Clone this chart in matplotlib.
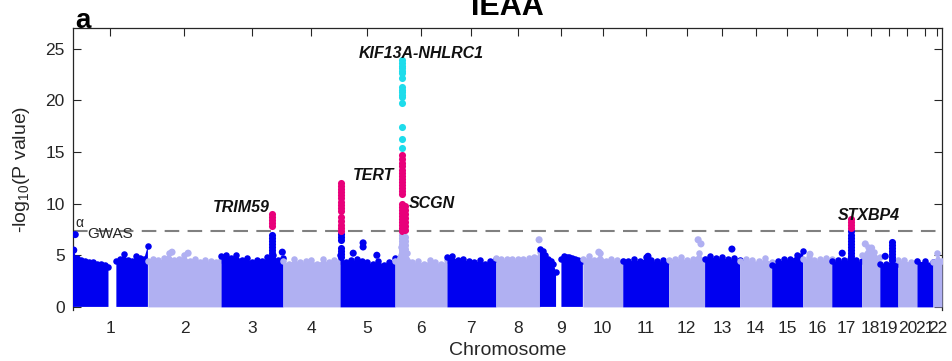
import numpy as np
import matplotlib.pyplot as plt

plt.rcParams['font.family'] = ['Liberation Sans', 'DejaVu Sans']
plt.rcParams['mathtext.default'] = 'regular'

# chromosome lengths (Mb, as laid out in the figure)
chroms = [str(i) for i in range(1, 23)]
chrom_len = [248, 242, 205, 189, 182, 172, 162, 146, 142, 132, 152,
             119, 116, 106, 103, 96, 99, 60, 60, 63, 53, 30]

# upper envelope of the bulk -log10(p) cloud, evenly along each chromosome (nan = gap)
nan = np.nan
env = [
    [5.5, 4.7, 4.5, 4.4, 4.3, 4.3, 4.2, 4.2, 4.1, 3.9, nan, 4.4, 4.6, 5.1, 4.5, 4.4, 4.9, 4.7, 4.6, 5.9],
    [4.4, 4.6, 4.5, 4.7, 5.2, 4.5, 4.6, 5.0, 4.4, 4.6, 4.3, 4.5, 4.4, 4.3, 4.5],
    [4.9, 5.0, 4.7, 5.0, 4.5, 4.7, 4.3, 4.5, 4.4, 4.8, 5.0, 4.5, 4.7],
    [4.4, 4.2, 4.6, 4.3, 4.4, 4.5, 4.2, 4.6, 4.3, 4.5, 4.4],
    [5.0, 4.3, 4.5, 4.6, 4.4, 4.3, 4.2, 4.4, 4.1, 4.3, 4.7],
    [4.4, 5.8, 5.2, 4.3, 4.4, 4.2, 4.5, 4.3, 4.2, 4.5],
    [4.8, 4.9, 4.5, 4.6, 4.4, 4.3, 4.5, 4.2, 4.4, 4.6],
    [4.7, 4.6, 4.6, 4.6, 4.6, 4.6, 4.7, 4.8, 5.3],
    [5.6, 5.4, 5.0, 4.6, 4.4, 4.2, 3.4, nan, 4.6, 4.9, 4.8, 4.8, 4.7, 4.6, 4.5, 4.4, 4.4],
    [4.6, 4.9, 4.5, 5.2, 4.4, 4.6, 4.5, 4.4],
    [4.4, 4.4, 4.6, 4.4, 4.8, 4.5, 4.4, 4.5, 4.4],
    [4.5, 4.6, 4.8, 4.5, 4.6, 5.2, 4.6],
    [4.6, 4.9, 4.7, 4.8, 4.6, 4.7, 4.5],
    [4.4, 4.6, 4.5, 4.4, 4.7, 4.3],
    [4.1, 4.4, 4.6, 4.6, 5.0, 5.4],
    [4.6, 4.8, 4.5, 4.6, 4.7, 4.6],
    [4.4, 4.5, 4.5, 4.6, 4.5, 4.4],
    [5.0, 5.8, 5.3, 4.8],
    [4.2, 4.2, 4.5, 4.2],
    [4.5, 4.5, 4.3, 4.4],
    [4.4, 4.4, 4.3],
    [4.3, 5.2, 4.4],
]

# isolated SNPs above the cloud
out_chrom = [1, 1, 2, 2, 3, 5, 5, 5, 5, 8, 10, 11, 12, 12, 13, 16, 17, 18, 18, 19]
out_frac = [0.03, 0.01, 0.33, 0.55, 0.99, 0.42, 0.42, 0.24, 0.67, 0.98, 0.4, 0.55,
            0.82, 0.9, 0.78, 0.25, 0.35, 0.2, 0.55, 0.3]
out_val = [7.0, 5.5, 5.3, 5.2, 5.3, 6.2, 5.8, 5.2, 5.0, 6.5, 5.3, 4.9,
           6.5, 6.1, 5.6, 5.1, 5.2, 6.1, 5.7, 4.9]

# peak columns: below-threshold SNPs, significant SNPs, top locus SNPs
hit_chrom = [3, 5, 6, 6, 17, 19]
hit_frac = [0.82, 0.02, 0.13, 0.19, 0.63, 0.7]
hit_base = [
    [7.0, 6.7, 6.4, 6.1, 5.8, 5.5, 5.2, 4.9, 4.6],
    [7.1, 6.8, 6.5, 5.7, 5.4, 5.1, 4.8],
    [7.0, 6.7, 6.4, 6.1, 5.8, 5.5, 5.2, 4.9],
    [6.8, 6.4, 6.0, 5.6, 5.2],
    [7.3, 7.0, 6.7, 6.4, 6.1, 5.8, 5.5, 5.2, 4.9, 4.6],
    [6.3, 6.0, 5.7, 5.4, 5.1, 4.8, 4.5],
]
hit_sig = [
    [9.0, 8.7, 8.4, 8.1, 7.8],
    [12.0, 11.7, 11.4, 11.1, 10.8, 10.5, 10.2, 9.9, 9.6, 9.3, 8.7, 8.3, 7.9, 7.6, 7.3],
    [14.7, 14.3, 13.9, 13.6, 13.3, 13.0, 12.7, 12.4, 12.1, 11.8, 11.5, 11.2, 10.9,
     10.0, 9.7, 9.4, 9.1, 8.8, 8.5, 8.2, 7.9, 7.6, 7.35],
    [9.8, 9.4, 9.0, 8.6, 8.2, 7.8, 7.4],
    [8.5, 8.2, 7.9, 7.6],
    [],
]
hit_top = [
    [], [],
    [23.9, 23.6, 23.3, 23.1, 22.8, 22.6, 22.2, 21.3, 21.0, 20.8, 20.5, 20.3, 19.7,
     17.4, 16.3, 15.4],
    [], [], [],
]

gwas = -np.log10(5e-8)

dark = '#0000F0'
light = '#B0B0F2'
sig_col = '#E8007A'
top_col = '#1EDCEB'
ink = '#262626'

starts = np.concatenate([[0], np.cumsum(chrom_len)[:-1]])
total = sum(chrom_len)
centers = starts + np.array(chrom_len) / 2


def chrom_color(c):
    return dark if c % 2 == 1 else light


def pos(c, f):
    return starts[c - 1] + f * chrom_len[c - 1]


fig = plt.figure(figsize=(9.52, 3.61), dpi=100)
ax = fig.add_axes([73 / 952, 1 - 310 / 361, 869 / 952, 282 / 361])

for i in range(22):
    col = chrom_color(i + 1)
    y = np.array(env[i], dtype=float)
    x = np.linspace(starts[i], starts[i] + chrom_len[i], len(y))
    ax.fill_between(x, 0, y, color=col, lw=0, zorder=3)
    ax.scatter(x, y, s=22, color=col, lw=0, zorder=3)

ax.scatter([pos(c, f) for c, f in zip(out_chrom, out_frac)], out_val,
           s=26, c=[chrom_color(c) for c in out_chrom], lw=0, zorder=3)

for c, f, b, s, t in zip(hit_chrom, hit_frac, hit_base, hit_sig, hit_top):
    xh = pos(c, f)
    ax.scatter([xh] * len(b), b, s=26, color=chrom_color(c), lw=0, zorder=4)
    ax.scatter([xh] * len(s), s, s=26, color=sig_col, lw=0, zorder=4)
    ax.scatter([xh] * len(t), t, s=26, color=top_col, lw=0, zorder=4)

ax.axhline(gwas, color='#808080', lw=1.5, dashes=(7, 4), zorder=2)


def px2x(p):
    return (p - 73) / 869 * total


ann_kw = dict(fontsize=11.5, fontweight='bold', fontstyle='italic', color='#111111', zorder=6)
ax.text(px2x(421), 24.1, 'KIF13A-NHLRC1', ha='center', va='baseline', **ann_kw)
ax.text(px2x(374), 12.3, 'TERT', ha='center', va='baseline', **ann_kw)
ax.text(px2x(241), 9.2, 'TRIM59', ha='center', va='baseline', **ann_kw)
ax.text(px2x(432), 9.6, 'SCGN', ha='center', va='baseline', **ann_kw)
ax.text(px2x(869), 8.4, 'STXBP4', ha='center', va='baseline', **ann_kw)

ax.text(px2x(75), 7.7, 'α', fontsize=10, color=ink, va='baseline', zorder=6)
ax.text(px2x(87), 6.67, 'GWAS', fontsize=11, color=ink, va='baseline', zorder=6)

ax.set_xlim(0, total)
ax.set_ylim(-0.3, 27)
ax.set_xticks(centers)
ax.set_xticklabels(chroms)
ax.set_yticks([0, 5, 10, 15, 20, 25])
ax.tick_params(axis='x', bottom=False, top=True, direction='in', length=6,
               labelsize=12.5, labelcolor=ink, pad=8, color=ink)
ax.tick_params(axis='y', left=True, right=True, direction='in', length=6,
               labelsize=12.5, labelcolor=ink, pad=6, color=ink)
for side in ['left', 'right', 'top']:
    ax.spines[side].set_color(ink)
    ax.spines[side].set_linewidth(0.9)
ax.spines['bottom'].set_visible(False)

ax.set_xlabel('Chromosome', fontsize=14, color=ink)
ax.xaxis.set_label_coords(0.5, -0.115)
ax.set_ylabel('-log$_{10}$(P value)', fontsize=14, color=ink)
ax.yaxis.set_label_coords(-0.047, 0.5)

ax.text(0.5, 1.046, 'IEAA', transform=ax.transAxes, ha='center', va='baseline',
        fontsize=22, fontweight='bold', color='#000000')
fig.text(75 / 952, 1 - 28 / 361, 'a', ha='left', va='baseline',
         fontsize=20, fontweight='bold', color='#000000')

fig.savefig('out.png', dpi=100)
